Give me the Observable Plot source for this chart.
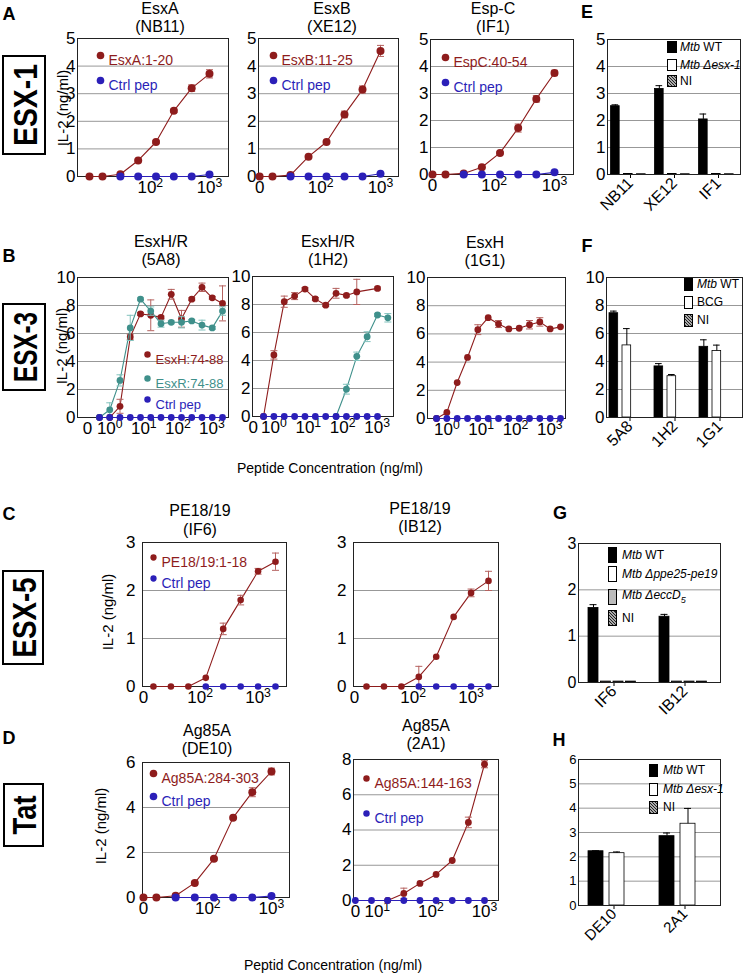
<!DOCTYPE html>
<html><head><meta charset="utf-8">
<script src="https://cdn.jsdelivr.net/npm/d3@7"></script>
<script src="https://cdn.jsdelivr.net/npm/@observablehq/plot@0.6"></script>
<style>
body{margin:0;background:#fff;font-family:"Liberation Sans",Arial,Helvetica,sans-serif;}
#fig{position:relative;width:744px;height:976px;overflow:hidden;background:#fff;}
.abs{position:absolute;white-space:nowrap;line-height:1;color:#000;}
.box{position:absolute;border:1px solid #000;box-sizing:border-box;}
i{font-style:italic;}
</style></head><body><div id="fig"></div>
<script>
// ---------------- DATA ----------------
// Panel A (ESX-1): two-fold peptide dilutions, ng/ml (0 = no peptide)
const doseA = [0, 15.6, 31.25, 62.5, 125, 250, 500, 1000];
const ctrlDoseA = [31.25, 62.5, 125, 250, 500, 1000];
const A1_pep = [0, 0, 0.08, 0.58, 1.25, 2.38, 3.2, 3.72];
const A1_err = [0, 0, 0, 0.04, 0.05, 0.06, 0.12, 0.15];
const A1_ctrl = [0, 0, 0, 0, 0, 0.07];
const A2_pep = [0, 0, 0.05, 0.72, 1.25, 2.25, 3.15, 4.55];
const A2_err = [0, 0, 0, 0.03, 0.05, 0.12, 0.13, 0.2];
const A2_ctrl = [0, 0, 0, 0, 0, 0.1];
const A3_pep = [0, 0, 0.04, 0.27, 0.8, 1.72, 2.8, 3.76];
const A3_err = [0, 0, 0, 0.03, 0.04, 0.15, 0.12, 0.1];
const A3_ctrl = [0, 0, 0, 0, 0, 0.08];
// Panel B (ESX-3)
const doseB = [0.5, 1, 2, 4, 8, 16, 32, 64, 128, 256, 512, 1024, 2048];
const B1_H = [0, 0, 0.8, 5.75, 7.4, 7.3, 7.15, 8.8, 7.05, 8.45, 9.3, 8.55, 8.15];
const B1_Herr = [0, 0, 0.5, 0.2, 0.1, 1.1, 0.1, 0.35, 0.6, 0.1, 0.3, 0.1, 1.25];
const B1_R = [0, 0.55, 2.65, 6.4, 8.45, 7.6, 6.7, 6.8, 6.8, 6.9, 6.6, 6.4, 7.6];
const B1_Rerr = [0, 0.5, 0.4, 0.9, 0.1, 0.3, 0.25, 0.1, 0.4, 0.1, 0.35, 0.1, 0.3];
const B_ctrl = [0, 0, 0, 0, 0, 0, 0, 0, 0, 0, 0, 0, 0];
const B2_doseH = [0.5, 1, 2, 4, 8, 16, 32, 64, 128, 256, 1024];
const B2_H = [0, 4.4, 8.2, 8.6, 9.1, 8.4, 7.95, 8.8, 8.65, 8.9, 9.15];
const B2_Herr = [0, 0.3, 0.4, 0.25, 0.1, 0.1, 0.1, 0.35, 0.1, 0.9, 0.1];
const B2_doseR = [64, 128, 256, 512, 1024, 2048];
const B2_R = [0, 1.95, 4.3, 5.7, 7.25, 7.05];
const B2_Rerr = [0, 0.35, 0.3, 0.35, 0.1, 0.3];
const B2_doseCtrl = [0.5, 1, 2, 4, 8, 16, 32, 64, 128, 256, 512, 1024];
const B2_ctrl = [0, 0, 0, 0, 0, 0, 0, 0, 0, 0, 0, 0];
const B3_H = [0, 0.43, 2.55, 4.33, 6.3, 7.15, 6.7, 6.35, 6.4, 6.65, 6.85, 6.35, 6.5];
const B3_Herr = [0, 0, 0, 0, 0.35, 0, 0.25, 0, 0, 0.3, 0.3, 0, 0];
// Panel C (ESX-5)
const doseC = [15.6, 31.25, 62.5, 125, 250, 500, 1000, 2000];
const ctrlDoseC = [125, 250, 500, 1000, 2000];
const C1_pep = [0, 0, 0, 0.18, 1.2, 1.8, 2.4, 2.6];
const C1_err = [0, 0, 0, 0, 0.12, 0.1, 0.06, 0.18];
const C2_pep = [0, 0, 0, 0.2, 0.62, 1.45, 1.95, 2.2];
const C2_err = [0, 0, 0, 0.22, 0, 0, 0.08, 0.2];
const C_ctrl = [0, 0, 0, 0, 0];
// Panel D (Tat)
const doseD1 = [0, 15.6, 31.25, 62.5, 125, 250, 500, 1000];
const ctrlDoseD1 = [31.25, 62.5, 125, 250, 500, 1000];
const D1_pep = [0, 0, 0.08, 0.65, 1.72, 3.55, 4.68, 5.6];
const D1_err = [0, 0, 0, 0, 0.05, 0, 0.2, 0.15];
const D1_ctrl = [0, 0, 0, 0, 0, 0.07];
const doseD2 = [15.6, 31.25, 62.5, 125, 250, 500, 1000];
const ctrlDoseD2 = [0, 7.8, 15.6, 31.25, 62.5, 125, 250, 500, 1000];
const D2_pep = [0, 0.4, 0.97, 1.48, 2.27, 4.43, 7.73];
const D2_err = [0, 0.3, 0, 0, 0, 0.3, 0.2];
const D2_ctrl = [0, 0, 0, 0, 0, 0, 0, 0, 0];
// Bar panels
const groupsE = ["NB11", "XE12", "IF1"];
const E_wt = [2.53, 3.17, 2.04], E_wtErr = [0.05, 0.12, 0.2];
const E_del = [0.02, 0.02, 0.02], E_ni = [0.01, 0.01, 0.01];
const groupsF = ["5A8", "1H2", "1G1"];
const F_wt = [7.45, 3.65, 5.05], F_wtErr = [0.15, 0.2, 0.5];
const F_bcg = [5.15, 2.95, 4.75], F_bcgErr = [1.2, 0.12, 0.42];
const F_ni = [0, 0, 0];
const groupsG = ["IF6", "IB12"];
const G_wt = [1.61, 1.42], G_wtErr = [0.07, 0.05];
const G_ppe = [0.02, 0.02], G_ecc = [0.02, 0.02], G_ni = [0.02, 0.02];
const groupsH = ["DE10", "2A1"];
const H_wt = [2.23, 2.85], H_wtErr = [0.02, 0.13];
const H_del = [2.15, 3.36], H_delErr = [0.05, 0.63];
const H_ni = [0, 0];
// Tick values
const ticks05 = [0, 1, 2, 3, 4, 5], ticks010 = [0, 2, 4, 6, 8, 10], ticks03 = [0, 1, 2, 3];
const ticks06by2 = [0, 2, 4, 6], ticks08 = [0, 2, 4, 6, 8], ticks06 = [0, 1, 2, 3, 4, 5, 6];
const xTicksA = [0, 100, 1000], xTicksB = [0, 1, 10, 100, 1000], xTicksD2 = [0, 10, 100, 1000];

// ---------------- STYLE ----------------
const RED = "#8e1c1c", BLUE = "#2b1fb8", TEAL = "#3f908b";
const RED_ERR = "#b5625f", TEAL_ERR = "#82c2bd";
const FONT = "'Liberation Sans', Arial, Helvetica, sans-serif";
const SUP = ["⁰", "¹", "²", "³"];
const CAP = {draw(ctx, size) { const w = Math.sqrt(size / Math.PI); ctx.moveTo(-w, 0); ctx.lineTo(w, 0); }};
const fig = document.getElementById("fig");
const plotStyle = px => `font-family:${FONT};font-size:${px}px;color:#000;background:transparent;overflow:visible;`;

function fixSup(svg) {
  svg.querySelectorAll("text").forEach(t => {
    const m = t.textContent.match(/^10([⁰¹²³])$/);
    if (m) {
      t.textContent = "10";
      const ts = document.createElementNS("http://www.w3.org/2000/svg", "tspan");
      ts.setAttribute("dy", "-0.45em"); ts.setAttribute("font-size", "0.72em");
      ts.textContent = String(SUP.indexOf(m[1]));
      t.appendChild(ts);
    }
  });
}
function place(node, left, top) {
  node.style.position = "absolute"; node.style.left = left + "px"; node.style.top = top + "px";
  node.style.overflow = "visible"; fig.appendChild(node);
}
function label(html, x, y, style = "") {
  const d = document.createElement("div");
  d.className = "abs"; d.innerHTML = html;
  d.style.cssText += `left:${x}px;top:${y}px;transform:translate(-50%,-50%);${style}`;
  fig.appendChild(d);
}
function title(l1, l2, x, y1, y2) { label(l1, x, y1, "font-size:16px"); label(l2, x, y2, "font-size:16px"); }
function ylab(x, y, fs = 15) { label("IL-2 (ng/ml)", x, y, `font-size:${fs}px;transform:translate(-50%,-50%) rotate(-90deg)`); }
function sysBox(text, x, y, w, h, len) {
  const ns = "http://www.w3.org/2000/svg";
  const s = document.createElementNS(ns, "svg");
  s.setAttribute("width", w); s.setAttribute("height", h);
  s.innerHTML = `<rect x="1" y="1" width="${w - 2}" height="${h - 2}" fill="#fff" stroke="#000" stroke-width="2"/>
   <text transform="translate(${w / 2 + 1},${h / 2}) rotate(-90)" text-anchor="middle" dominant-baseline="central"
    font-family="${FONT}" font-weight="bold" font-size="33" textLength="${len}" lengthAdjust="spacingAndGlyphs">${text}</text>`;
  place(s, x, y);
}
function sizeX(svg, px) {
  svg.querySelectorAll("g[aria-label='x-axis'] text, g[aria-label='x-axis tick label'] text, g[aria-label='x-axis tick label']")
    .forEach(t => t.style.fontSize = px + "px");
}

function doseChart(o) {
  const [l, t, r, b] = o.frame;
  const mL = 34, mR = 14, mT = 14, mB = 30;
  const xv = d => d === 0 ? o.zero : d;
  const marks = [
    Plot.ruleY(o.yTicks.slice(1, -1), {stroke: "#8c8c8c", strokeWidth: 0.9}),
    Plot.frame({stroke: "#222", strokeWidth: 1})
  ];
  for (const s of o.series) {
    const rows = s.dose.map((d, i) => ({x: xv(d), y: s.value[i], e: s.err ? s.err[i] : 0}));
    const er = rows.filter(d => d.e > 0);
    marks.push(Plot.line(rows, {x: "x", y: "y", stroke: s.color, strokeWidth: 1.1}));
    if (er.length) {
      marks.push(Plot.ruleX(er, {x: "x", y1: d => Math.max(0, d.y - d.e), y2: d => d.y + d.e, stroke: s.errColor, strokeWidth: 1}));
      marks.push(Plot.dot(er, {x: "x", y: d => d.y + d.e, symbol: CAP, r: 3.5, stroke: s.errColor, fill: "none", strokeWidth: 1}));
      marks.push(Plot.dot(er, {x: "x", y: d => Math.max(0, d.y - d.e), symbol: CAP, r: 3.5, stroke: s.errColor, fill: "none", strokeWidth: 1}));
    }
    marks.push(Plot.dot(rows, {x: "x", y: "y", r: o.r, fill: s.color}));
  }
  for (const L of (o.legend || [])) {
    marks.push(Plot.dot([0], {frameAnchor: "top-left", dx: L.dx, dy: L.dy, r: o.r * 0.95, fill: L.color}));
    marks.push(Plot.text([L.text], {frameAnchor: "top-left", dx: L.dx + 8, dy: L.dy, text: d => d, fill: L.color, textAnchor: "start", fontSize: o.legendFont}));
  }
  const svg = Plot.plot({
    width: r - l + mL + mR, height: b - t + mT + mB,
    marginLeft: mL, marginRight: mR, marginTop: mT, marginBottom: mB,
    style: plotStyle(17),
    x: {type: "log", domain: o.xDomain, ticks: o.xTicks.map(xv), tickSize: 0, tickPadding: 4, label: null,
        tickFormat: d => d === o.zero ? "0" : "10" + SUP[Math.round(Math.log10(d))]},
    y: {domain: [0, o.yTicks[o.yTicks.length - 1]], ticks: o.yTicks, tickFormat: d => String(d), tickSize: 0, tickPadding: o.yPad, label: null},
    marks
  });
  fixSup(svg);
  place(svg, l - mL, t - mT);
}

function barChart(o) {
  const [l, t, r, b] = o.frame;
  const mL = 34, mR = 8, mT = 10, mB = 56;
  const bw = (r - l) / o.groups.length;
  const marks = [
    Plot.ruleY(o.yTicks.slice(1, -1), {stroke: "#8c8c8c", strokeWidth: 0.9}),
  ];
  o.series.forEach((s, i) => {
    const il = o.off + i * o.step, ir = bw - il - o.w;
    const rows = o.groups.map((g, j) => ({g, v: s.values[j], e: s.err ? s.err[j] : 0}));
    marks.push(Plot.barY(rows, {x: "g", y: "v", fill: s.fill, stroke: "#000", strokeWidth: 0.8, insetLeft: il, insetRight: ir}));
    const er = rows.filter(d => d.e > 0);
    if (er.length) {
      const dx = il + o.w / 2 - bw / 2;
      marks.push(Plot.ruleX(er, {x: "g", y1: "v", y2: d => d.v + d.e, dx, stroke: "#000", strokeWidth: 1}));
      marks.push(Plot.tickY(er, {x: "g", y: d => d.v + d.e, insetLeft: il + o.w / 2 - 3.5, insetRight: bw - (il + o.w / 2 + 3.5), stroke: "#000", strokeWidth: 1}));
    }
  });
  marks.push(Plot.frame({stroke: "#222", strokeWidth: 1}));
  const svg = Plot.plot({
    width: r - l + mL + mR, height: b - t + mT + mB,
    marginLeft: mL, marginRight: mR, marginTop: mT, marginBottom: mB,
    style: plotStyle(o.font),
    x: {type: "band", domain: o.groups, padding: 0, tickSize: 4, tickPadding: 2, tickRotate: -45, label: null},
    y: {domain: [0, o.yTicks[o.yTicks.length - 1]], ticks: o.yTicks, tickFormat: d => String(d), tickSize: 0, tickPadding: 2, label: null},
    marks
  });
  sizeX(svg, o.xFont);
  place(svg, l - mL, t - mT);
}

function barLegend(items, x, ys, w, h, tx, font) {
  items.forEach((it, i) => {
    const d = document.createElement("div");
    d.className = "box";
    d.style.cssText += `left:${x}px;top:${ys[i] - h / 2}px;width:${w}px;height:${h}px;background:${it.bg}`;
    fig.appendChild(d);
    const t = document.createElement("div");
    t.className = "abs"; t.innerHTML = it.html;
    t.style.cssText += `left:${tx}px;top:${ys[i]}px;transform:translateY(-50%);font-size:${font}px`;
    fig.appendChild(t);
  });
}
const HATCH = "repeating-linear-gradient(45deg,#222 0 1px,#aaa 1px 2.2px)";

// ---------------- PANEL A ----------------
doseChart({frame: [77, 38, 228, 176], xDomain: [5.9, 2094], zero: 9.4, xTicks: xTicksA, yTicks: ticks05, yPad: 2, r: 4,
  series: [{dose: doseA, value: A1_pep, err: A1_err, color: RED, errColor: RED_ERR}, {dose: ctrlDoseA, value: A1_ctrl, color: BLUE}],
  legend: [{text: "EsxA:1-20", color: RED, dx: 23, dy: 17}, {text: "Ctrl pep", color: BLUE, dx: 23, dy: 42}], legendFont: 14});
doseChart({frame: [258, 38, 398, 176], xDomain: [9.1, 2000], zero: 9.5, xTicks: xTicksA, yTicks: ticks05, yPad: 2, r: 4,
  series: [{dose: doseA, value: A2_pep, err: A2_err, color: RED, errColor: RED_ERR}, {dose: ctrlDoseA, value: A2_ctrl, color: BLUE}],
  legend: [{text: "EsxB:11-25", color: RED, dx: 15, dy: 17}, {text: "Ctrl pep", color: BLUE, dx: 15, dy: 42}], legendFont: 14});
doseChart({frame: [430, 39, 573, 174], xDomain: [8.8, 2066], zero: 9.5, xTicks: xTicksA, yTicks: ticks05, yPad: 2, r: 4,
  series: [{dose: doseA, value: A3_pep, err: A3_err, color: RED, errColor: RED_ERR}, {dose: ctrlDoseA, value: A3_ctrl, color: BLUE}],
  legend: [{text: "EspC:40-54", color: RED, dx: 15, dy: 18}, {text: "Ctrl pep", color: BLUE, dx: 15, dy: 43}], legendFont: 14});
barChart({frame: [607, 39, 740, 174], groups: groupsE, yTicks: ticks05, w: 9, step: 13, off: 2.5, font: 17, xFont: 16,
  series: [{values: E_wt, err: E_wtErr, fill: "#000"}, {values: E_del, fill: "#fff"}, {values: E_ni, fill: "#555"}]});
barLegend([{bg: "#000", html: "<i>Mtb</i> WT"}, {bg: "#fff", html: "<i>Mtb Δesx-1</i>"}, {bg: HATCH, html: "NI"}],
  667, [47, 65, 81], 10, 12, 680, 12);

// ---------------- PANEL B ----------------
doseChart({frame: [77, 277, 228, 417], xDomain: [0.113, 3070], zero: 0.222, xTicks: xTicksB, yTicks: ticks010, yPad: 2, r: 3.4,
  series: [{dose: doseB, value: B1_H, err: B1_Herr, color: RED, errColor: RED_ERR},
           {dose: doseB, value: B1_R, err: B1_Rerr, color: TEAL, errColor: TEAL_ERR},
           {dose: doseB, value: B_ctrl, color: BLUE}],
  legend: [{text: "EsxH:74-88", color: RED, dx: 70, dy: 77}, {text: "EsxR:74-88", color: TEAL, dx: 70, dy: 101},
           {text: "Ctrl pep", color: BLUE, dx: 70, dy: 122}], legendFont: 13});
doseChart({frame: [252, 276, 393, 416], xDomain: [0.239, 2988], zero: 0.25, xTicks: xTicksB, yTicks: ticks010, yPad: 2, r: 3.4,
  series: [{dose: B2_doseH, value: B2_H, err: B2_Herr, color: RED, errColor: RED_ERR},
           {dose: B2_doseR, value: B2_R, err: B2_Rerr, color: TEAL, errColor: TEAL_ERR},
           {dose: B2_doseCtrl, value: B2_ctrl, color: BLUE}]});
doseChart({frame: [427, 277, 565, 418], xDomain: [0.273, 2866], zero: 0.28, xTicks: xTicksB, yTicks: ticks010, yPad: 2, r: 3.4,
  series: [{dose: doseB, value: B3_H, err: B3_Herr, color: RED, errColor: RED_ERR},
           {dose: doseB, value: B_ctrl, color: BLUE}]});
barChart({frame: [606, 277, 742, 417], groups: groupsF, yTicks: ticks010, w: 9, step: 13, off: 2, font: 17, xFont: 16,
  series: [{values: F_wt, err: F_wtErr, fill: "#000"}, {values: F_bcg, err: F_bcgErr, fill: "#fff"}, {values: F_ni, fill: "#555"}]});
barLegend([{bg: "#000", html: "<i>Mtb</i> WT"}, {bg: "#fff", html: "BCG"}, {bg: HATCH, html: "NI"}],
  684, [284, 302, 320], 9, 13, 697, 12);

// ---------------- PANEL C ----------------
doseChart({frame: [142, 542, 286, 686], xDomain: [10.1, 3097], zero: 10.5, xTicks: xTicksA, yTicks: ticks03, yPad: 7, r: 3.3,
  series: [{dose: doseC, value: C1_pep, err: C1_err, color: RED, errColor: RED_ERR}, {dose: ctrlDoseC, value: C_ctrl, color: BLUE}],
  legend: [{text: "PE18/19:1-18", color: RED, dx: 11, dy: 15}, {text: "Ctrl pep", color: BLUE, dx: 11, dy: 36}], legendFont: 14});
doseChart({frame: [353, 542, 498, 686], xDomain: [9.3, 2979], zero: 9.7, xTicks: xTicksA, yTicks: ticks03, yPad: 7, r: 3.3,
  series: [{dose: doseC, value: C2_pep, err: C2_err, color: RED, errColor: RED_ERR}, {dose: ctrlDoseC, value: C_ctrl, color: BLUE}]});
barChart({frame: [578, 543, 720, 682], groups: groupsG, yTicks: ticks03, w: 10, step: 12.5, off: 10, font: 16, xFont: 16,
  series: [{values: G_wt, err: G_wtErr, fill: "#000"}, {values: G_ppe, fill: "#fff"}, {values: G_ecc, fill: "#bbb"}, {values: G_ni, fill: "#555"}]});
barLegend([{bg: "#000", html: "<i>Mtb</i> WT"}, {bg: "#fff", html: "<i>Mtb Δppe25-pe19</i>"},
           {bg: "#bbb", html: "<i>Mtb ΔeccD<sub style='font-size:0.75em'>5</sub></i>"}, {bg: HATCH, html: "NI"}],
  608, [555, 574, 597, 618], 9, 16, 622, 12);

// ---------------- PANEL D ----------------
doseChart({frame: [142, 762, 289, 897], xDomain: [9.44, 1918], zero: 9.77, xTicks: xTicksA, yTicks: ticks06by2, yPad: 7, r: 4,
  series: [{dose: doseD1, value: D1_pep, err: D1_err, color: RED, errColor: RED_ERR}, {dose: ctrlDoseD1, value: D1_ctrl, color: BLUE}],
  legend: [{text: "Ag85A:284-303", color: RED, dx: 11, dy: 11}, {text: "Ctrl pep", color: BLUE, dx: 11, dy: 34}], legendFont: 14});
doseChart({frame: [353, 759, 498, 900], xDomain: [3.6, 1824], zero: 3.9, xTicks: xTicksD2, yTicks: ticks08, yPad: 2, r: 3.4,
  series: [{dose: doseD2, value: D2_pep, err: D2_err, color: RED, errColor: RED_ERR}, {dose: ctrlDoseD2, value: D2_ctrl, color: BLUE}],
  legend: [{text: "Ag85A:144-163", color: RED, dx: 13, dy: 19}, {text: "Ctrl pep", color: BLUE, dx: 13, dy: 54}], legendFont: 14});
barChart({frame: [578, 759, 720, 905], groups: groupsH, yTicks: ticks06, w: 15, step: 21, off: 10, font: 13, xFont: 15,
  series: [{values: H_wt, err: H_wtErr, fill: "#000"}, {values: H_del, err: H_delErr, fill: "#fff"}, {values: H_ni, fill: "#555"}]});
barLegend([{bg: "#000", html: "<i>Mtb</i> WT"}, {bg: "#fff", html: "<i>Mtb Δesx-1</i>"}, {bg: HATCH, html: "NI"}],
  649, [770, 789, 807], 9, 13, 663, 12);

// ---------------- ANNOTATIONS ----------------
const LET = "font-size:18px;font-weight:bold";
label("A", 9, 14, LET); label("E", 587, 12, LET); label("B", 9, 256, LET); label("F", 587, 246, LET);
label("C", 9, 514, LET); label("G", 560, 513, LET); label("D", 9, 738, LET); label("H", 559, 740, LET);
title("EsxA", "(NB11)", 160, 9, 27); title("EsxB", "(XE12)", 332, 9, 27); title("Esp-C", "(IF1)", 493, 9, 27);
title("EsxH/R", "(5A8)", 161, 242, 260); title("EsxH/R", "(1H2)", 328, 242, 260); title("EsxH", "(1G1)", 485, 243, 261);
title("PE18/19", "(IF6)", 200, 511, 530); title("PE18/19", "(IB12)", 420, 509, 527);
title("Ag85A", "(DE10)", 207, 731, 749); title("Ag85A", "(2A1)", 426, 726, 744);
ylab(62, 108); ylab(61, 346); ylab(107, 612); ylab(100, 826);
label("Peptide Concentration (ng/ml)", 330, 468, "font-size:14px");
label("Peptid Concentration (ng/ml)", 333, 965, "font-size:14px");
sysBox("ESX-1", 2, 55, 44, 100, 82);
sysBox("ESX-3", 2, 303, 44, 88, 70);
sysBox("ESX-5", 2, 570, 42, 95, 80);
sysBox("Tat", 3, 783, 41, 64, 39);
</script></body></html>
